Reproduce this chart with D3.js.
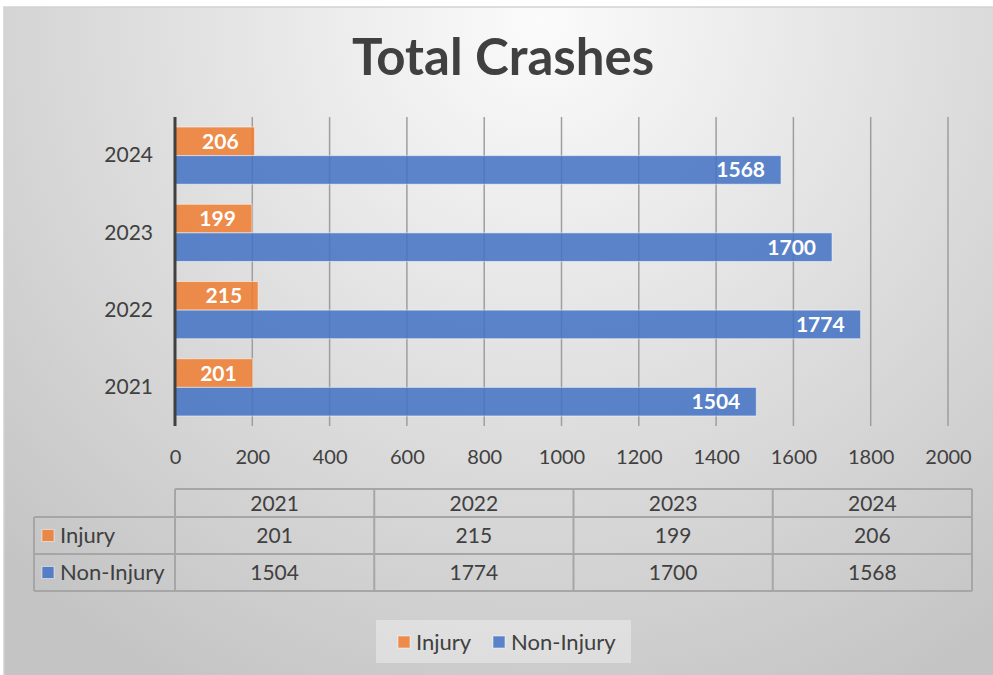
<!DOCTYPE html>
<html>
<head>
<meta charset="utf-8">
<script src="https://cdn.jsdelivr.net/npm/d3@7"></script>
<style>
  body { margin: 0; background: #ffffff; }
  svg { display: block; font-family: Lato, "Open Sans", sans-serif; }
</style>
</head>
<body>
<div id="chart"></div>
<script>
// data
var years = ["2021", "2022", "2023", "2024"];
var seriesNames = ["Injury", "Non-Injury"];
var injury = [201, 215, 199, 206];
var nonInjury = [1504, 1774, 1700, 1568];
var xTicks = [0, 200, 400, 600, 800, 1000, 1200, 1400, 1600, 1800, 2000];

var colors = {"Injury": "#ED7D31", "Non-Injury": "#4472C4"};
var width = 993, height = 675;
var textColor = "#404040";

var svg = d3.select("#chart").append("svg")
    .attr("width", width)
    .attr("height", height);

// background gradient
var defs = svg.append("defs");
var grad = defs.append("radialGradient")
    .attr("id", "bg")
    .attr("gradientUnits", "userSpaceOnUse")
    .attr("cx", 540).attr("cy", 20)
    .attr("r", 760);
grad.append("stop").attr("offset", "0%").attr("stop-color", "#fbfbfb");
grad.append("stop").attr("offset", "100%").attr("stop-color", "#c4c4c4");

svg.append("rect")
    .attr("x", 4).attr("y", 7)
    .attr("width", width).attr("height", height)
    .attr("fill", "url(#bg)")
    .attr("stroke", "#d2d2d2")
    .attr("stroke-width", 1.5);

// title
svg.append("text")
    .attr("x", 503).attr("y", 75)
    .attr("text-anchor", "middle")
    .style("font-size", "51px")
    .style("font-weight", "bold")
    .style("fill", textColor)
    .text("Total Crashes");

// plot area
var plotLeft = 175, plotRight = 948, plotTop = 117, plotBottom = 426;

var xScale = d3.scaleLinear()
    .domain([0, 2000])
    .range([plotLeft, plotRight]);

var yScale = d3.scaleBand()
    .domain(years.slice().reverse())
    .range([plotTop, plotBottom])
    .paddingInner(0.26)
    .paddingOuter(0.13);

var ySub = d3.scaleBand()
    .domain(seriesNames)
    .range([0, yScale.bandwidth()]);

// gridlines
svg.append("g")
    .selectAll("line")
    .data(xTicks.slice(1))
    .enter().append("line")
    .attr("x1", function(d){ return xScale(d); })
    .attr("x2", function(d){ return xScale(d); })
    .attr("y1", plotTop)
    .attr("y2", plotBottom)
    .attr("stroke", "#9e9e9e")
    .attr("stroke-width", 1.5);

// x axis labels
var xAxis = d3.axisBottom(xScale)
    .tickValues(xTicks)
    .tickFormat(d3.format("d"))
    .tickSize(0)
    .tickPadding(24);

svg.append("g")
    .attr("class", "xAxis")
    .attr("transform", "translate(0," + plotBottom + ")")
    .call(xAxis)
    .call(function(g){ g.select(".domain").remove(); })
    .selectAll("text")
    .style("font-family", "Lato, sans-serif")
    .style("font-size", "20px")
    .style("fill", textColor);

// y axis labels
var yAxis = d3.axisLeft(yScale).tickSize(0).tickPadding(22);
svg.append("g")
    .attr("class", "yAxis")
    .attr("transform", "translate(" + plotLeft + ",0)")
    .call(yAxis)
    .call(function(g){ g.select(".domain").remove(); })
    .selectAll("text")
    .style("font-family", "Lato, sans-serif")
    .style("font-size", "21px")
    .style("fill", textColor);

// bars
var rows = years.map(function(y, i){
    return {year: y, values: [
        {name: "Injury", value: injury[i]},
        {name: "Non-Injury", value: nonInjury[i]}
    ]};
});

var groups = svg.selectAll(".grp")
    .data(rows).enter().append("g")
    .attr("class", "grp")
    .attr("transform", function(d){ return "translate(0," + yScale(d.year) + ")"; });

groups.selectAll("rect")
    .data(function(d){ return d.values; })
    .enter().append("rect")
    .attr("x", xScale(0))
    .attr("y", function(d){ return ySub(d.name); })
    .attr("width", function(d){ return xScale(d.value) - xScale(0); })
    .attr("height", ySub.bandwidth())
    .attr("fill", function(d){ return colors[d.name]; })
    .attr("fill-opacity", 0.86)
    .attr("stroke", "#ffffff")
    .attr("stroke-opacity", 0.5)
    .attr("stroke-width", 1);

groups.selectAll(".lbl")
    .data(function(d){ return d.values; })
    .enter().append("text")
    .attr("class", "lbl")
    .attr("x", function(d){ return xScale(d.value) - 16; })
    .attr("y", function(d){ return ySub(d.name) + ySub.bandwidth() / 2; })
    .attr("dy", "0.36em")
    .attr("text-anchor", "end")
    .style("font-size", "21px")
    .style("font-weight", "bold")
    .style("fill", "#ffffff")
    .text(function(d){ return d.value; });

// zero axis line
svg.append("line")
    .attr("x1", xScale(0)).attr("x2", xScale(0))
    .attr("y1", plotTop).attr("y2", plotBottom)
    .attr("stroke", "#404040")
    .attr("stroke-width", 3);

// data table
var colX = d3.scaleBand()
    .domain(years)
    .range([plotLeft, 972]);
var tableLeft = 34;
var rowY = [489, 517, 554, 591];
var tableStroke = "#a6a6a6";
var tbl = svg.append("g").attr("class", "table");

// horizontal lines
tbl.append("line").attr("x1", plotLeft).attr("x2", 972).attr("y1", rowY[0]).attr("y2", rowY[0]);
[1, 2, 3].forEach(function(i){
    tbl.append("line").attr("x1", tableLeft).attr("x2", 972).attr("y1", rowY[i]).attr("y2", rowY[i]);
});
// vertical lines
tbl.append("line").attr("x1", tableLeft).attr("x2", tableLeft).attr("y1", rowY[1]).attr("y2", rowY[3]);
years.forEach(function(y){
    tbl.append("line").attr("x1", colX(y)).attr("x2", colX(y)).attr("y1", rowY[0]).attr("y2", rowY[3]);
});
tbl.append("line").attr("x1", 972).attr("x2", 972).attr("y1", rowY[0]).attr("y2", rowY[3]);
tbl.selectAll("line").attr("stroke", tableStroke).attr("stroke-width", 2);

// header texts
tbl.selectAll(".hdr")
    .data(years).enter().append("text")
    .attr("class", "hdr")
    .attr("x", function(d){ return colX(d) + colX.bandwidth() / 2; })
    .attr("y", (rowY[0] + rowY[1]) / 2)
    .attr("dy", "0.36em")
    .attr("text-anchor", "middle")
    .style("font-size", "21px")
    .style("fill", textColor)
    .text(function(d){ return d; });

var tableRows = [
    {name: "Injury", values: injury},
    {name: "Non-Injury", values: nonInjury}
];

tableRows.forEach(function(r, ri){
    var cy = (rowY[ri + 1] + rowY[ri + 2]) / 2;
    tbl.append("rect")
        .attr("x", 42).attr("y", cy - 6)
        .attr("width", 12).attr("height", 12)
        .attr("fill", colors[r.name])
        .attr("fill-opacity", 0.86)
        .attr("stroke", "#ffffff").attr("stroke-opacity", 0.5);
    tbl.append("text")
        .attr("x", 60).attr("y", cy)
        .attr("dy", "0.36em")
        .style("font-size", "22px")
        .style("fill", textColor)
        .text(r.name);
    tbl.selectAll(".v" + ri)
        .data(r.values).enter().append("text")
        .attr("x", function(d, i){ return colX(years[i]) + colX.bandwidth() / 2; })
        .attr("y", cy)
        .attr("dy", "0.36em")
        .attr("text-anchor", "middle")
        .style("font-size", "21px")
        .style("fill", textColor)
        .text(function(d){ return d; });
});

// legend
var legend = svg.append("g").attr("class", "legend");
legend.append("rect")
    .attr("x", 376).attr("y", 620)
    .attr("width", 255).attr("height", 43)
    .attr("fill", "#ffffff")
    .attr("fill-opacity", 0.35);

var legendX = [398, 493];
seriesNames.forEach(function(n, i){
    legend.append("rect")
        .attr("x", legendX[i]).attr("y", 636)
        .attr("width", 12).attr("height", 12)
        .attr("fill", colors[n])
        .attr("fill-opacity", 0.86)
        .attr("stroke", "#ffffff").attr("stroke-opacity", 0.5);
    legend.append("text")
        .attr("x", legendX[i] + 18).attr("y", 642)
        .attr("dy", "0.36em")
        .style("font-size", "22px")
        .style("fill", textColor)
        .text(n);
});
</script>
</body>
</html>
